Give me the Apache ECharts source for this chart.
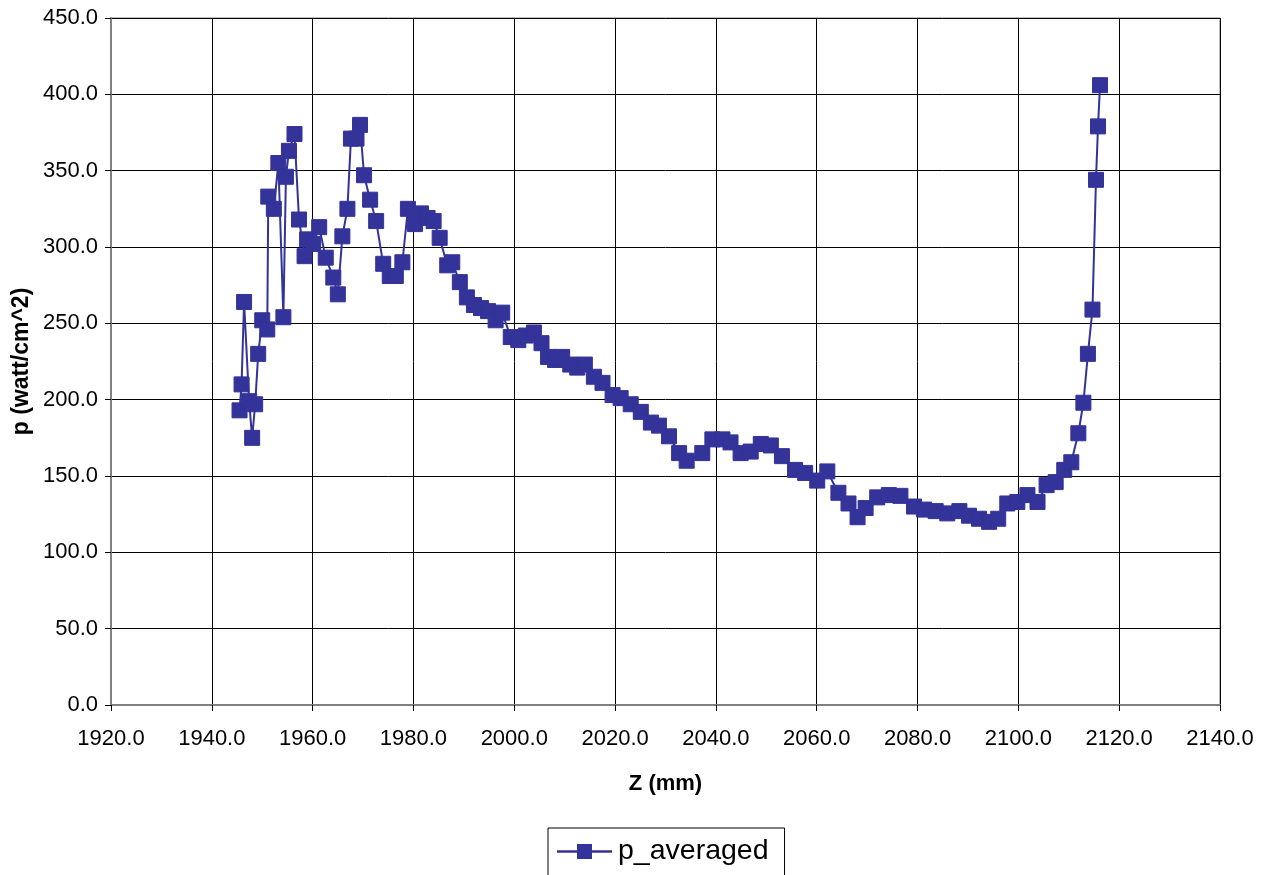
<!DOCTYPE html>
<html><head><meta charset="utf-8">
<script src="https://cdn.jsdelivr.net/npm/echarts@6/dist/echarts.min.js"></script>
<style>html,body{margin:0;padding:0;background:#fff}#c{width:1267px;height:875px}</style>
</head><body><div id="c"></div>
<script>
const zValues = [1945.5,1945.9,1946.4,1947.4,1948.0,1948.6,1949.2,1950.0,1951.0,1951.2,1952.3,1953.2,1954.2,1954.7,1955.3,1956.4,1957.3,1958.4,1958.9,1960.1,1961.3,1962.6,1964.1,1965.0,1965.9,1966.9,1967.6,1968.7,1969.4,1970.2,1971.4,1972.6,1974.0,1975.3,1976.5,1977.8,1978.9,1980.3,1981.5,1982.8,1984.0,1985.2,1986.7,1987.7,1989.2,1990.6,1992.0,1993.4,1994.8,1996.3,1997.6,1999.3,2000.8,2002.3,2003.9,2005.4,2006.7,2008.1,2009.5,2011.1,2012.5,2014.0,2015.8,2017.5,2019.5,2021.1,2023.1,2025.1,2027.1,2028.7,2030.7,2032.7,2034.2,2037.3,2039.3,2041.3,2042.9,2044.9,2046.9,2048.9,2050.9,2053.1,2055.7,2057.7,2060.1,2062.1,2064.3,2066.3,2068.1,2069.7,2072.0,2074.3,2076.6,2079.3,2081.3,2083.6,2085.9,2088.3,2090.2,2092.2,2094.2,2096.0,2097.8,2099.8,2101.8,2103.8,2105.6,2107.4,2109.1,2110.5,2111.9,2112.9,2113.8,2114.7,2115.4,2115.8,2116.2];
const pValues = [193,210,264,199,175,197,230,252,246,333,325,355,254,346,363,374,318,294,305,302,313,293,280,269,307,325,371,371,380,347,331,317,289,281,281,290,325,315,322,319,317,306,288,290,277,267,262,260,258,252,257,241,239,242,244,237,228,226,228,223,221,223,215,211,203,201,197,192,185,183,176,165,160,165,174,174,172,165,166,171,170,163,154,152,147,153,139,132,123,129,136,137.5,137,130,128,127,125.5,127,124,122,120,122,132,133,137.5,133,144,146,154,159,178,198,230,259,344,379,406];
const seriesName = 'p_averaged';
const xAxisTitle = 'Z (mm)';
const yAxisTitle = 'p (watt/cm^2)';

const data = zValues.map((z, i) => [z, pValues[i]]);
const chart = echarts.init(document.getElementById('c'), null, {renderer: 'canvas'});
const font = 'Liberation Sans, Arial, sans-serif';
chart.setOption({
  animation: false,
  backgroundColor: '#fff',
  textStyle: {fontFamily: font},
  grid: {left: 111, right: 47, top: 18, bottom: 170, show: true, borderColor: '#808080', borderWidth: 1},
  legend: {
    top: 828, left: 548,
    data: [seriesName],
    itemWidth: 55, itemHeight: 15,
    padding: [9, 16, 30, 9],
    itemGap: 6,
    borderColor: '#000', borderWidth: 1,
    textStyle: {fontSize: 28.5, color: '#000', fontFamily: font, padding: [0, 0, 0, 1]},
    icon: 'path://M0,6.3 L20,6.3 L20,0 L35,0 L35,6.3 L55,6.3 L55,8.7 L35,8.7 L35,15 L20,15 L20,8.7 L0,8.7 Z'
  },
  xAxis: {
    type: 'value', min: 1920, max: 2140, interval: 20,
    name: xAxisTitle, nameLocation: 'middle', nameGap: 68,
    nameTextStyle: {fontSize: 22, fontWeight: 'bold', color: '#000'},
    axisLine: {lineStyle: {color: '#808080', width: 2}},
    axisTick: {show: true, length: 6, lineStyle: {color: '#000'}},
    axisLabel: {fontSize: 22, color: '#000', margin: 23, formatter: v => v.toFixed(1)},
    splitLine: {show: true, lineStyle: {color: '#000', width: 1}}
  },
  yAxis: {
    type: 'value', min: 0, max: 450, interval: 50,
    name: yAxisTitle, nameLocation: 'middle', nameGap: 78, nameMoveOverlap: false,
    nameTextStyle: {fontSize: 23, fontWeight: 'bold', color: '#000'},
    axisLine: {show: true, lineStyle: {color: '#808080', width: 2}},
    axisTick: {show: true, length: 6, lineStyle: {color: '#000'}},
    axisLabel: {fontSize: 22, color: '#000', margin: 13, formatter: v => v.toFixed(1)},
    splitLine: {show: true, lineStyle: {color: '#000', width: 1}}
  },
  series: [{
    name: seriesName, type: 'line', data: data,
    symbol: 'rect', symbolSize: 15,
    lineStyle: {color: '#333399', width: 2},
    itemStyle: {color: '#333399', borderColor: '#333399'},
    emphasis: {disabled: true}
  }]
});
</script></body></html>
